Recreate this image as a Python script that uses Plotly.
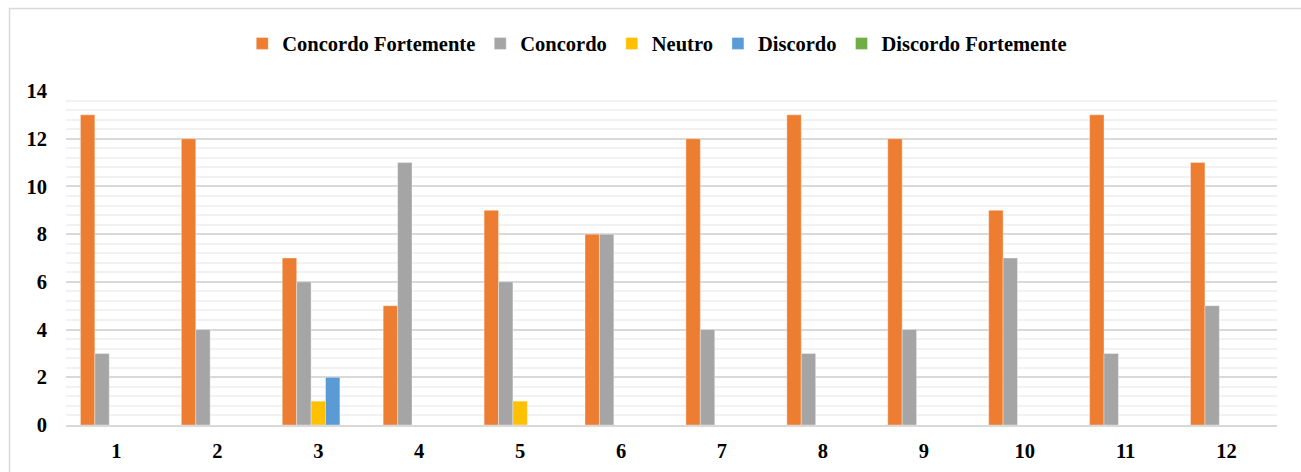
import plotly.graph_objects as go

categories = ["1", "2", "3", "4", "5", "6", "7", "8", "9", "10", "11", "12"]
concordo_fortemente = [13, 12, 7, 5, 9, 8, 12, 13, 12, 9, 13, 11]
concordo = [3, 4, 6, 11, 6, 8, 4, 3, 4, 7, 3, 5]
neutro = [0, 0, 1, 0, 1, 0, 0, 0, 0, 0, 0, 0]
discordo = [0, 0, 2, 0, 0, 0, 0, 0, 0, 0, 0, 0]
discordo_fortemente = [0, 0, 0, 0, 0, 0, 0, 0, 0, 0, 0, 0]

series = [
    ("Concordo Fortemente", concordo_fortemente, "#ED7D31"),
    ("Concordo", concordo, "#A5A5A5"),
    ("Neutro", neutro, "#FFC000"),
    ("Discordo", discordo, "#5B9BD5"),
    ("Discordo Fortemente", discordo_fortemente, "#70AD47"),
]

FONT = "Times New Roman, Liberation Serif, serif"
FS = 20.5

fig = go.Figure()
for name, vals, color in series:
    fig.add_trace(go.Bar(
        x=categories, y=vals, name=name,
        marker=dict(color=color, line=dict(color="rgba(255,255,255,0.6)", width=0.6)),
    ))

W, H = 1301, 472
L, R, T, B = 65.5, 24, 90.5, 47
pw = W - L - R
ph = H - T - B

fig.update_layout(
    width=W, height=H, autosize=False,
    margin=dict(l=L, r=R, t=T, b=B, pad=0),
    paper_bgcolor="white", plot_bgcolor="white",
    barmode="group", bargap=0.286, bargroupgap=0,
    font=dict(family=FONT, size=FS, color="black"),
    legend=dict(
        orientation="h", x=(657 - L) / pw, xanchor="center", y=1 + (T - 43) / ph, yanchor="middle",
        font=dict(family=FONT, size=FS, color="black", weight="bold"),
        itemwidth=30, tracegroupgap=0,
    ),
    xaxis=dict(
        showgrid=False, showline=True, linecolor="#D9D9D9", linewidth=1.5,
        ticks="", tickfont=dict(family=FONT, size=FS, color="black", weight="bold"),
        ticklabelstandoff=7, automargin=False,
    ),
    yaxis=dict(
        range=[0, 14], dtick=2, tick0=0,
        showgrid=True, gridcolor="#D9D9D9", gridwidth=1.5,
        zeroline=False, showline=False,
        ticks="", tickfont=dict(family=FONT, size=FS, color="black", weight="bold"),
        ticklabelstandoff=18, automargin=False,
        minor=dict(dtick=0.4, tick0=0, showgrid=True, gridcolor="#F2F2F2", gridwidth=1.5),
    ),
    shapes=[dict(
        type="rect", xref="paper", yref="paper",
        x0=(9 - L) / pw, x1=(1310 - L) / pw,
        y0=-(H + 10 - (H - B)) / ph, y1=((H - B) - 8) / ph,
        line=dict(color="#D9D9D9", width=1.5), fillcolor="rgba(0,0,0,0)", layer="below",
    )],
)

fig.write_html("out.html")
